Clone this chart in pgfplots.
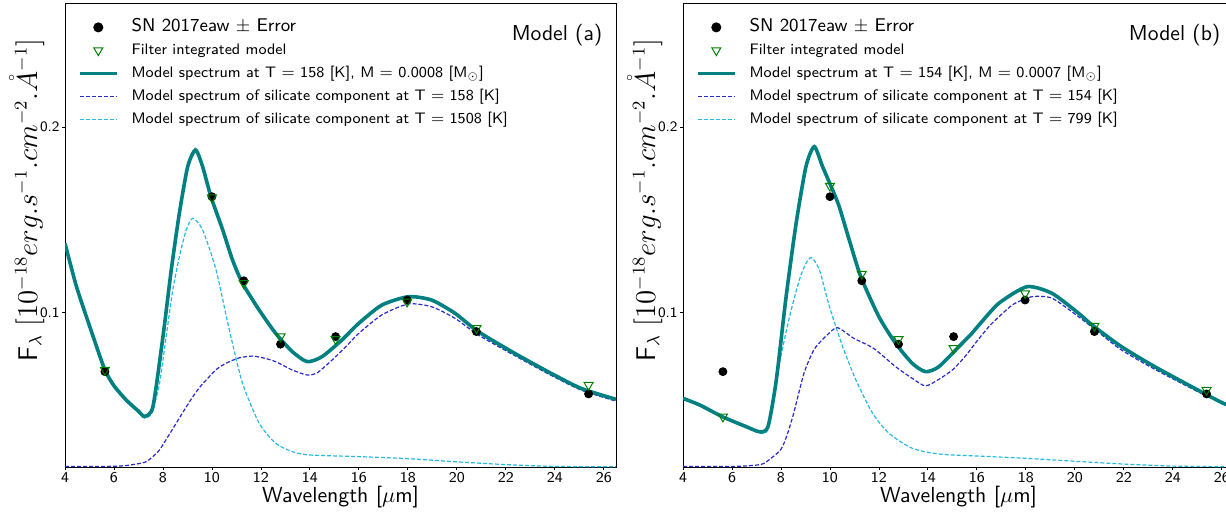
\documentclass[border=0pt]{standalone}
\usepackage{pgfplots}
\usepackage{pgfplotstable}
\pgfplotsset{compat=1.18}
\renewcommand{\familydefault}{\sfdefault}
\definecolor{tealc}{RGB}{0,128,128}
\definecolor{blued}{RGB}{40,40,205}
\definecolor{cyand}{RGB}{40,185,225}
\definecolor{greenm}{RGB}{0,128,0}

\pgfplotstableread{
x y
4.0 0.1373
4.47 0.1139
5.15 0.0870
5.63 0.0690
6.0 0.0605
6.5 0.0528
7.0 0.0468
7.25 0.0440
7.59 0.0492
8.0 0.0870
8.34 0.1230
8.67 0.1535
9.01 0.1786
9.33 0.1876
9.62 0.1786
9.96 0.1624
10.44 0.1445
10.84 0.1283
11.25 0.1157
11.93 0.1013
12.6 0.0888
13.28 0.0789
13.89 0.0735
14.5 0.0762
15.31 0.0852
16.0 0.0942
16.94 0.1040
18.02 0.1085
18.97 0.1067
19.92 0.0996
20.87 0.0897
22.36 0.0780
23.72 0.0681
25.07 0.0591
26.5 0.0532
}\totala

\pgfplotstableread{
x y
4.0 0.0170
5.0 0.0170
6.0 0.0171
6.5 0.0175
7.0 0.0185
7.32 0.0196
7.6 0.0225
7.86 0.0259
8.2 0.0330
8.54 0.0403
8.9 0.0480
9.22 0.0546
9.55 0.0605
9.89 0.0654
10.2 0.0695
10.57 0.0726
11.1 0.0755
11.65 0.0765
12.1 0.0755
12.6 0.0735
13.28 0.0690
13.89 0.0663
14.3 0.0675
14.91 0.0744
15.5 0.0820
16.0 0.0888
16.94 0.0987
18.02 0.1046
18.97 0.1031
19.92 0.0969
20.87 0.0879
22.36 0.0768
23.72 0.0670
25.07 0.0582
26.5 0.0522
}\bluea

\pgfplotstableread{
x y
4.0 0.1368
4.47 0.1134
5.15 0.0865
5.63 0.0685
6.0 0.0600
6.5 0.0522
7.0 0.0460
7.25 0.0430
7.45 0.0442
7.59 0.0474
7.86 0.0618
8.13 0.0870
8.4 0.1120
8.67 0.1300
8.95 0.1445
9.22 0.1508
9.62 0.1445
10.17 0.1229
10.71 0.0906
11.25 0.0618
11.93 0.0403
12.6 0.0295
13.28 0.0250
13.96 0.0232
16.0 0.0223
18.0 0.0212
20.0 0.0195
22.0 0.0180
24.0 0.0170
26.5 0.0168
}\cyana

\pgfplotstableread{
x y
4.0 0.0537
4.69 0.0501
5.61 0.0438
6.59 0.0384
7.13 0.0357
7.47 0.0384
7.81 0.0636
8.21 0.1085
8.62 0.1481
9.02 0.1786
9.36 0.1894
9.7 0.1786
10.11 0.1660
10.38 0.1570
10.79 0.1390
11.26 0.1193
12.0 0.0977
12.68 0.0834
13.36 0.0726
13.9 0.0681
14.45 0.0708
15.4 0.0834
15.8 0.0888
16.07 0.0930
16.9 0.1050
18.05 0.1139
19.07 0.1103
20.15 0.0996
20.7 0.0933
21.9 0.0816
23.26 0.0708
25.15 0.0573
26.07 0.0510
26.5 0.0492
}\totalb

\pgfplotstableread{
x y
4.0 0.0170
6.0 0.0170
6.8 0.0175
7.31 0.0187
7.98 0.0259
8.25 0.0340
8.52 0.0457
8.94 0.0672
9.34 0.0798
9.75 0.0861
10.29 0.0918
10.97 0.0861
11.78 0.0807
12.68 0.0708
13.36 0.0645
13.9 0.0604
14.45 0.0640
15.0 0.0690
15.5 0.0760
16.0 0.0845
16.5 0.0925
16.9 0.0977
17.5 0.1045
18.25 0.1085
19.07 0.1077
20.15 0.0977
21.0 0.0890
21.9 0.0798
23.26 0.0694
25.15 0.0565
26.5 0.0487
}\blueb

\pgfplotstableread{
x y
4.0 0.0533
4.69 0.0497
5.61 0.0434
6.59 0.0380
7.13 0.0350
7.47 0.0376
7.94 0.0726
8.35 0.0977
8.75 0.1175
9.02 0.1265
9.25 0.1296
9.57 0.1229
9.98 0.1031
10.52 0.0816
11.06 0.0636
11.74 0.0457
12.41 0.0349
13.36 0.0268
14.45 0.0237
16.07 0.0226
18.0 0.0214
20.0 0.0198
22.0 0.0183
24.0 0.0172
26.5 0.0168
}\cyanb

\pgfplotstableread{
x y
5.63 0.0681
10.0 0.1624
11.3 0.1171
12.8 0.0829
15.05 0.0870
17.97 0.1067
20.8 0.0897
25.38 0.0561
}\obs

\pgfplotstableread{
x y
5.63 0.0690
10.0 0.1620
11.3 0.1157
12.8 0.0870
15.05 0.0856
17.97 0.1058
20.8 0.0915
25.38 0.0609
}\filta

\pgfplotstableread{
x y
5.63 0.0438
10.0 0.1682
11.3 0.1208
12.8 0.0856
15.05 0.0807
17.97 0.1103
20.8 0.0927
25.38 0.0582
}\filtb

\pgfplotsset{
  legimg/.style={legend image code/.code={\draw[mark repeat=2,mark phase=2,##1] plot coordinates {(0pt,0pt) (9.25pt,0pt) (18.5pt,0pt)};}},
  panel/.style={
    scale only axis, width=275.5pt, height=232pt,
    xmin=4, xmax=26.5, ymin=0.01671, ymax=0.2668,
    xtick={4,6,...,26}, ytick={0.1,0.2},
    xtick pos=bottom, ytick pos=left,
    /pgf/number format/assume math mode=true,
    tick align=outside, major tick length=1.5pt,
    every tick/.style={black, line width=0.4pt},
    axis line style={line width=0.5pt},
    xticklabel style={font=\fontsize{7.5}{9}\selectfont, inner sep=1pt},
    yticklabel style={font=\fontsize{7.2}{9}\selectfont, inner sep=1pt},
    xlabel={Wavelength [$\mu$m]},
    xlabel style={at={(axis description cs:0.5,-0.0647)}, anchor=center, font=\fontsize{10.9}{13}\selectfont},
    ylabel={F$_\lambda$ $[10^{-18}erg.s^{-1}.cm^{-2}.\mathring{A}^{-1}]$},
    ylabel style={at={(axis description cs:-0.069,0.575)}, anchor=center, font=\fontsize{13.5}{16}\selectfont},
    legend cell align=left,
    legend style={at={(axis description cs:0.0236,0.9647)}, anchor=north west, draw=none, fill=none,
      inner sep=0pt, outer sep=0pt, row sep=3.5pt, font=\fontsize{7.6}{9}\selectfont,
      nodes={inner sep=0pt, text height=6pt, text depth=2pt},
      /tikz/every odd column/.append style={column sep=6.5pt}},
    legimg,
  },
}

\begin{document}
\begin{tikzpicture}
\begin{axis}[panel, at={(32.5pt,-233.5pt)}, anchor=south west]
\addlegendimage{only marks, mark=*, mark size=2.3pt, black, legimg}
\addlegendentry{\fontsize{9.2}{11}\selectfont SN 2017eaw $\pm$ Error}
\addlegendimage{only marks, mark=triangle, mark size=2.6pt, mark options={rotate=180}, greenm, line width=0.5pt, legimg}
\addlegendentry{Filter integrated model}
\addlegendimage{tealc, line width=1.8pt}
\addlegendentry{Model spectrum at T $=$ 158 [K], M $=$ 0.0008 [M$_\odot$]}
\addlegendimage{blued, line width=0.6pt, dash pattern=on 2pt off 1pt}
\addlegendentry{Model spectrum of silicate component at T $=$ 158 [K]}
\addlegendimage{cyand, line width=0.6pt, dash pattern=on 2pt off 1pt}
\addlegendentry{Model spectrum of silicate component at T $=$ 1508 [K]}
\addplot[forget plot, cyand, line width=0.6pt, dash pattern=on 2pt off 1pt, smooth, tension=0.4] table[x=x,y=y]{\cyana};
\addplot[forget plot, blued, line width=0.6pt, dash pattern=on 2pt off 1pt, smooth, tension=0.4] table[x=x,y=y]{\bluea};
\addplot[forget plot, tealc, line width=1.8pt, smooth, tension=0.4] table[x=x,y=y]{\totala};
\addplot[forget plot, only marks, mark=*, mark size=2pt, black] table[x=x,y=y]{\obs};
\addplot[forget plot, only marks, mark=triangle, mark size=2.6pt, mark options={rotate=180}, greenm, line width=0.5pt] table[x=x,y=y]{\filta};
\node[anchor=east, inner sep=0pt, font=\fontsize{10.8}{13}\selectfont] at (rel axis cs:0.976,0.931) {Model (a)};
\end{axis}
\begin{axis}[panel, at={(341.5pt,-233.5pt)}, anchor=south west]
\addlegendimage{only marks, mark=*, mark size=2.3pt, black, legimg}
\addlegendentry{\fontsize{9.2}{11}\selectfont SN 2017eaw $\pm$ Error}
\addlegendimage{only marks, mark=triangle, mark size=2.6pt, mark options={rotate=180}, greenm, line width=0.5pt, legimg}
\addlegendentry{Filter integrated model}
\addlegendimage{tealc, line width=1.8pt}
\addlegendentry{Model spectrum at T $=$ 154 [K], M $=$ 0.0007 [M$_\odot$]}
\addlegendimage{blued, line width=0.6pt, dash pattern=on 2pt off 1pt}
\addlegendentry{Model spectrum of silicate component at T $=$ 154 [K]}
\addlegendimage{cyand, line width=0.6pt, dash pattern=on 2pt off 1pt}
\addlegendentry{Model spectrum of silicate component at T $=$ 799 [K]}
\addplot[forget plot, cyand, line width=0.6pt, dash pattern=on 2pt off 1pt, smooth, tension=0.4] table[x=x,y=y]{\cyanb};
\addplot[forget plot, blued, line width=0.6pt, dash pattern=on 2pt off 1pt, smooth, tension=0.4] table[x=x,y=y]{\blueb};
\addplot[forget plot, tealc, line width=1.8pt, smooth, tension=0.4] table[x=x,y=y]{\totalb};
\addplot[forget plot, only marks, mark=*, mark size=2pt, black] table[x=x,y=y]{\obs};
\addplot[forget plot, only marks, mark=triangle, mark size=2.6pt, mark options={rotate=180}, greenm, line width=0.5pt] table[x=x,y=y]{\filtb};
\node[anchor=east, inner sep=0pt, font=\fontsize{10.8}{13}\selectfont] at (rel axis cs:0.976,0.931) {Model (b)};
\end{axis}
\pgfresetboundingbox
\useasboundingbox (0pt,0pt) rectangle (613pt,-257pt);
\end{tikzpicture}
\end{document}
